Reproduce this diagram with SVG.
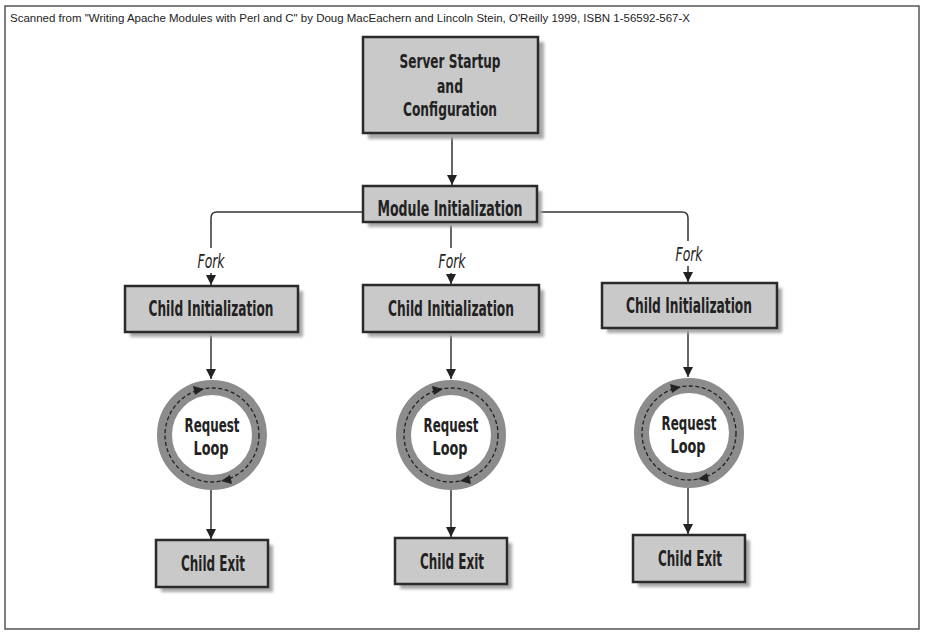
<svg xmlns="http://www.w3.org/2000/svg" width="925" height="636" viewBox="0 0 925 636">
<defs>
<style>
.frame{fill:#fff;stroke:#555;stroke-width:1.5}
.box{fill:#c9c9c9;stroke:#2a2a2a;stroke-width:2.5}
.shadow{fill:#a8a8a8;filter:url(#blur)}
.lbl{font-family:"DejaVu Sans Condensed","DejaVu Sans","Liberation Sans",sans-serif;font-weight:bold;fill:#222;text-anchor:middle}
.fork{font-family:"DejaVu Sans Condensed","DejaVu Sans","Liberation Sans",sans-serif;font-style:italic;font-size:19px;fill:#222;text-anchor:middle}
.title{font-family:"Liberation Sans",sans-serif;font-size:11px;fill:#222}
.conn{fill:none;stroke:#333;stroke-width:1.5}
.ring{fill:none;stroke:#8c8c8c;stroke-width:15}
.dash{fill:none;stroke:#222;stroke-width:1.3;stroke-dasharray:4 2.5}
.ah{fill:#222}
</style>
<filter id="blur" x="-10%" y="-20%" width="130%" height="150%"><feGaussianBlur stdDeviation="1.5"/></filter>
<marker id="arr" viewBox="0 0 10 10" refX="10" refY="5" markerWidth="10" markerHeight="10" markerUnits="userSpaceOnUse" orient="auto"><path d="M0,0 L10,5 L0,10 z" fill="#222"/></marker>
</defs>
<rect class="frame" x="5" y="6" width="914" height="623"/>
<text class="title" x="10" y="22" textLength="680" lengthAdjust="spacingAndGlyphs">Scanned from "Writing Apache Modules with Perl and C" by Doug MacEachern and Lincoln Stein, O'Reilly 1999, ISBN 1-56592-567-X</text>

<g id="connectors">
<path class="conn" d="M452,134 V185" marker-end="url(#arr)"/>
<path class="conn" d="M363,212 H217 Q211,212 211,218 V248"/>
<path class="conn" d="M211,273 V285" marker-end="url(#arr)"/>
<path class="conn" d="M451,222 V248"/>
<path class="conn" d="M451,273 V284" marker-end="url(#arr)"/>
<path class="conn" d="M537,212 H682 Q688,212 688,218 V241"/>
<path class="conn" d="M688,266 V282" marker-end="url(#arr)"/>
<path class="conn" d="M211,332 V379" marker-end="url(#arr)"/>
<path class="conn" d="M451,332 V379" marker-end="url(#arr)"/>
<path class="conn" d="M688,328 V377" marker-end="url(#arr)"/>
<path class="conn" d="M211,490 V539" marker-end="url(#arr)"/>
<path class="conn" d="M451,490 V537" marker-end="url(#arr)"/>
<path class="conn" d="M688,488 V534" marker-end="url(#arr)"/>
<text class="fork" x="211" y="268" textLength="27" lengthAdjust="spacingAndGlyphs">Fork</text>
<text class="fork" x="452" y="268" textLength="27" lengthAdjust="spacingAndGlyphs">Fork</text>
<text class="fork" x="689" y="261" textLength="27" lengthAdjust="spacingAndGlyphs">Fork</text>
</g>

<g id="server-startup">
<rect class="shadow" x="368" y="42" width="176" height="97"/>
<rect class="box" x="363" y="37" width="175" height="96"/>
<text class="lbl" font-size="20" x="450" y="68" textLength="101" lengthAdjust="spacingAndGlyphs">Server Startup</text>
<text class="lbl" font-size="20" x="450" y="93" textLength="26" lengthAdjust="spacingAndGlyphs">and</text>
<text class="lbl" font-size="20" x="450" y="116" textLength="94" lengthAdjust="spacingAndGlyphs">Configuration</text>
</g>

<g id="module-init">
<rect class="shadow" x="368" y="191" width="174" height="36"/>
<rect class="box" x="363" y="186" width="174" height="36"/>
<text class="lbl" font-size="22" x="450" y="216" textLength="145" lengthAdjust="spacingAndGlyphs">Module Initialization</text>
</g>

<g id="child-init-1">
<rect class="shadow" x="130" y="291" width="173" height="46"/>
<rect class="box" x="125" y="286" width="173" height="46"/>
<text class="lbl" font-size="21" x="211" y="316" textLength="125" lengthAdjust="spacingAndGlyphs">Child Initialization</text>
</g>
<g id="child-init-2">
<rect class="shadow" x="368" y="290" width="176" height="47"/>
<rect class="box" x="363" y="285" width="176" height="47"/>
<text class="lbl" font-size="21" x="451" y="316" textLength="126" lengthAdjust="spacingAndGlyphs">Child Initialization</text>
</g>
<g id="child-init-3">
<rect class="shadow" x="607" y="288" width="175" height="45"/>
<rect class="box" x="602" y="283" width="175" height="45"/>
<text class="lbl" font-size="21" x="689" y="313" textLength="126" lengthAdjust="spacingAndGlyphs">Child Initialization</text>
</g>

<g id="request-loop-1">
<circle class="ring" cx="212" cy="435" r="47.5"/>
<circle class="dash" cx="212" cy="435" r="47"/>
<path class="ah" d="M204,389 L193,386 L195,395 z"/>
<path class="ah" d="M221,481 L232,484 L230,475 z"/>
<text class="lbl" font-size="20" x="212" y="432" textLength="55" lengthAdjust="spacingAndGlyphs">Request</text>
<text class="lbl" font-size="20" x="211" y="455" textLength="35" lengthAdjust="spacingAndGlyphs">Loop</text>
</g>
<g id="request-loop-2">
<circle class="ring" cx="451" cy="435" r="47.5"/>
<circle class="dash" cx="451" cy="435" r="47"/>
<path class="ah" d="M443,389 L432,386 L434,395 z"/>
<path class="ah" d="M460,481 L471,484 L469,475 z"/>
<text class="lbl" font-size="20" x="451" y="432" textLength="55" lengthAdjust="spacingAndGlyphs">Request</text>
<text class="lbl" font-size="20" x="450" y="455" textLength="35" lengthAdjust="spacingAndGlyphs">Loop</text>
</g>
<g id="request-loop-3">
<circle class="ring" cx="689" cy="433" r="47.5"/>
<circle class="dash" cx="689" cy="433" r="47"/>
<path class="ah" d="M681,387 L670,384 L672,393 z"/>
<path class="ah" d="M698,479 L709,482 L707,473 z"/>
<text class="lbl" font-size="20" x="689" y="430" textLength="55" lengthAdjust="spacingAndGlyphs">Request</text>
<text class="lbl" font-size="20" x="688" y="453" textLength="35" lengthAdjust="spacingAndGlyphs">Loop</text>
</g>

<g id="child-exit-1">
<rect class="shadow" x="161" y="545" width="112" height="47"/>
<rect class="box" x="156" y="540" width="112" height="47"/>
<text class="lbl" font-size="21" x="213" y="571" textLength="64" lengthAdjust="spacingAndGlyphs">Child Exit</text>
</g>
<g id="child-exit-2">
<rect class="shadow" x="400" y="543" width="112" height="46"/>
<rect class="box" x="395" y="538" width="112" height="46"/>
<text class="lbl" font-size="21" x="452" y="569" textLength="64" lengthAdjust="spacingAndGlyphs">Child Exit</text>
</g>
<g id="child-exit-3">
<rect class="shadow" x="638" y="540" width="112" height="47"/>
<rect class="box" x="633" y="535" width="112" height="47"/>
<text class="lbl" font-size="21" x="690" y="566" textLength="64" lengthAdjust="spacingAndGlyphs">Child Exit</text>
</g>
</svg>
